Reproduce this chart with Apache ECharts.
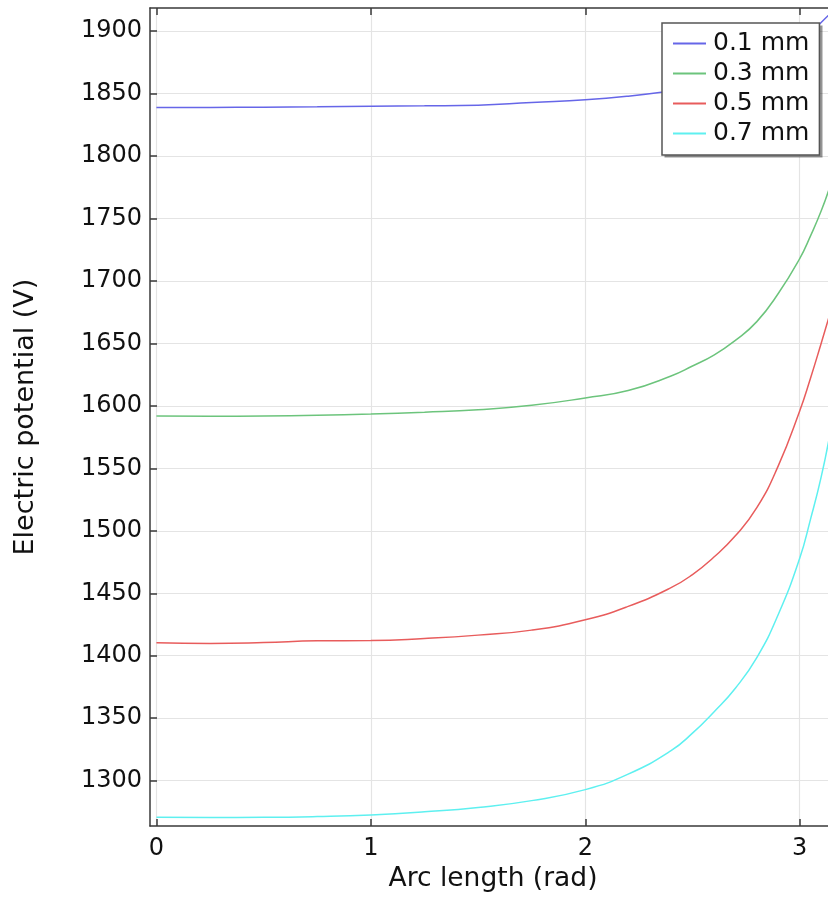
<!DOCTYPE html>
<html>
<head>
<meta charset="utf-8">
<script src="https://cdn.jsdelivr.net/npm/echarts@6/dist/echarts.min.js"></script>
<style>
html,body{margin:0;padding:0;background:#fff;}
#chart{width:828px;height:898px;}
</style>
</head>
<body>
<div id="chart"></div>
<script>
const arcLength = [0, 0.25, 0.5, 0.75, 1.0, 1.25, 1.5, 1.75, 2.0, 2.2, 2.4, 2.5, 2.6, 2.7, 2.8, 2.9, 3.0, 3.05, 3.1, 3.1416];
const seriesNames = ['0.1 mm', '0.3 mm', '0.5 mm', '0.7 mm'];
const v01 = [1839, 1839, 1839.2, 1839.5, 1840, 1840.3, 1840.8, 1843, 1845.1, 1848, 1852.2, 1855, 1859, 1864, 1870, 1879, 1891, 1898, 1907, 1914];
const v03 = [1592, 1591.8, 1592, 1592.5, 1593.5, 1595, 1597, 1600.5, 1606.4, 1612.3, 1624, 1632, 1640.7, 1652.5, 1667.5, 1690, 1718, 1736, 1756, 1776];
const v05 = [1410.3, 1409.8, 1410.5, 1411.9, 1412.1, 1413.8, 1416.5, 1420.5, 1428.8, 1439.5, 1454.5, 1465, 1479, 1496, 1518.5, 1552, 1596, 1622, 1650, 1674];
const v07 = [1270.7, 1270.5, 1270.6, 1271.2, 1272.5, 1275, 1278.5, 1284, 1292.8, 1305.2, 1324, 1338, 1355, 1374, 1398.5, 1433, 1478, 1509, 1543, 1578];
const xTicks = [0, 1, 2, 3];
const yTicks = [1300, 1350, 1400, 1450, 1500, 1550, 1600, 1650, 1700, 1750, 1800, 1850, 1900];

const colors = ['#6666e8', '#6cc47c', '#e85c5c', '#5ef0f0'];
const allValues = [v01, v03, v05, v07];
const FONT = 'DejaVu Sans';

const chart = echarts.init(document.getElementById('chart'), null, {renderer: 'canvas'});

const series = seriesNames.map((name, i) => ({
  name: name,
  type: 'line',
  data: arcLength.map((x, k) => [x, allValues[i][k]]),
  smooth: 0.5,
  showSymbol: false,
  symbol: 'none',
  clip: true,
  lineStyle: {color: colors[i], width: 1.5},
  itemStyle: {color: colors[i]},
  z: 3
}));

const axisColor = '#3a3a3a';
const plainNum = v => String(v);
chart.setOption({
  animation: false,
  backgroundColor: '#fff',
  grid: {left: 150, top: 8, right: 0, bottom: 66, containLabel: false},
  graphic: [{
    type: 'rect',
    z: 50,
    shape: {x: 664.5, y: 25.5, width: 158, height: 132},
    style: {fill: 'rgba(0,0,0,0.42)'}
  }],
  legend: {
    orient: 'vertical',
    left: 662,
    top: 23,
    z: 60,
    data: seriesNames,
    icon: 'rect',
    itemWidth: 33,
    itemHeight: 2,
    itemGap: 5,
    padding: [8, 10, 9, 11],
    backgroundColor: '#fff',
    borderColor: '#555',
    borderWidth: 1.5,
    borderRadius: 0,
    textStyle: {fontFamily: FONT, fontSize: 25, color: '#111', padding: [0, 0, 0, 2]}
  },
  xAxis: [{
    type: 'value',
    min: -0.03,
    max: 3.132,
    position: 'bottom',
    name: 'Arc length (rad)',
    nameLocation: 'middle',
    nameGap: 37,
    nameTextStyle: {fontFamily: FONT, fontSize: 26.5, color: '#111', padding: [0, 0, 0, 8]},
    axisLine: {show: true, onZero: false, lineStyle: {color: axisColor, width: 1.5}},
    axisTick: {show: true, inside: true, length: 7, customValues: xTicks, lineStyle: {color: axisColor, width: 1.5}},
    axisLabel: {show: true, customValues: xTicks, formatter: plainNum, margin: 11, fontFamily: FONT, fontSize: 24, color: '#111'},
    splitLine: {show: true, lineStyle: {color: '#e4e4e4', width: 1.2}}
  }, {
    type: 'value',
    min: -0.03,
    max: 3.132,
    position: 'top',
    axisLine: {show: true, onZero: false, lineStyle: {color: axisColor, width: 1.5}},
    axisTick: {show: true, inside: true, length: 7, customValues: xTicks, lineStyle: {color: axisColor, width: 1.5}},
    axisLabel: {show: false},
    splitLine: {show: false}
  }],
  yAxis: {
    type: 'value',
    min: 1263.6,
    max: 1918.6,
    name: 'Electric potential (V)',
    nameLocation: 'middle',
    nameGap: 111,
    nameRotate: 90,
    nameTextStyle: {fontFamily: FONT, fontSize: 27, color: '#111'},
    axisLine: {show: true, onZero: false, lineStyle: {color: axisColor, width: 1.5}},
    axisTick: {show: true, inside: true, length: 7, customValues: yTicks, lineStyle: {color: axisColor, width: 1.5}},
    axisLabel: {show: true, customValues: yTicks, formatter: plainNum, margin: 8, fontFamily: FONT, fontSize: 24, color: '#111'},
    splitLine: {show: true, lineStyle: {color: '#e4e4e4', width: 1.2}}
  },
  series: series
});
</script>
</body>
</html>
